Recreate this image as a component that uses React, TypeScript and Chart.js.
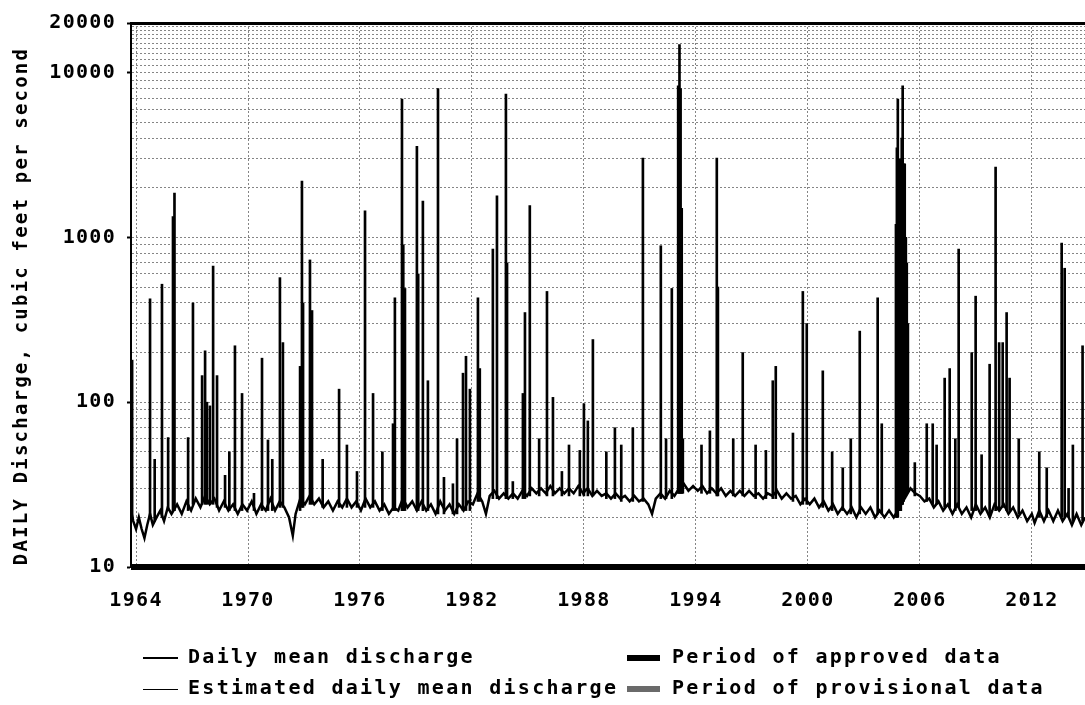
import React, { useEffect, useRef } from 'react';
import { Chart, registerables } from 'chart.js';

Chart.register(...registerables);

// ---------- axis ticks ----------
const xTickYears = [1964, 1970, 1976, 1982, 1988, 1994, 2000, 2006, 2012];
const yLabelValues = [10, 100, 1000, 10000, 20000];
const yGridValues = [
  10, 20, 30, 40, 50, 60, 70, 80, 90,
  100, 200, 300, 400, 500, 600, 700, 800, 900,
  1000, 2000, 3000, 4000, 5000, 6000, 7000, 8000, 9000,
  10000, 11000, 12000, 13000, 14000, 15000, 16000, 17000, 18000, 19000, 20000,
];
const xRange = [1963.73, 2014.85];
const yRange = [10, 20000];

const yAxisTitle = 'DAILY Discharge, cubic feet per second';
const legendLabels = [
  'Daily mean discharge',
  'Estimated daily mean discharge',
  'Period of approved data',
  'Period of provisional data',
];

// ---------- daily mean discharge: low-flow base (year, cfs) ----------
const baseFlow1964to1981: [number, number][] = [
  [1963.73, 22], [1963.85, 19], [1964.0, 17], [1964.15, 20], [1964.3, 17], [1964.45, 15],
  [1964.6, 18], [1964.75, 21], [1964.9, 18], [1965.1, 20], [1965.3, 22], [1965.5, 19],
  [1965.7, 23], [1965.9, 21], [1966.2, 24], [1966.45, 21], [1966.7, 25], [1966.95, 22],
  [1967.2, 26], [1967.45, 23], [1967.7, 27], [1967.95, 24], [1968.2, 26], [1968.45, 22],
  [1968.7, 25], [1968.95, 22], [1969.2, 24], [1969.45, 21], [1969.7, 24], [1969.95, 22],
  [1970.2, 25], [1970.45, 21], [1970.7, 24], [1970.95, 22], [1971.2, 26], [1971.45, 22],
  [1971.7, 25], [1971.95, 23], [1972.2, 20], [1972.4, 15.5], [1972.55, 21], [1972.8, 26],
  [1973.05, 24], [1973.3, 27], [1973.55, 24], [1973.8, 26], [1974.05, 23], [1974.3, 25],
  [1974.55, 22], [1974.8, 25], [1975.05, 23], [1975.3, 26], [1975.55, 23], [1975.8, 25],
  [1976.05, 22], [1976.3, 26], [1976.55, 23], [1976.8, 25], [1977.05, 22], [1977.3, 24],
  [1977.55, 21], [1977.8, 23], [1978.05, 22], [1978.3, 26], [1978.55, 23], [1978.8, 25],
  [1979.05, 22], [1979.3, 25], [1979.55, 22], [1979.8, 24], [1980.05, 21], [1980.3, 25],
  [1980.55, 22], [1980.8, 24], [1981.05, 21], [1981.3, 24], [1981.55, 22], [1981.8, 25],
];
const baseFlow1982to1999: [number, number][] = [
  [1982.05, 24], [1982.3, 28], [1982.55, 25], [1982.75, 21], [1982.95, 27], [1983.2, 29],
  [1983.45, 26], [1983.7, 28], [1983.95, 26], [1984.2, 28], [1984.45, 26], [1984.7, 29],
  [1984.95, 27], [1985.2, 30], [1985.45, 28], [1985.7, 30], [1985.95, 28], [1986.2, 31],
  [1986.45, 28], [1986.7, 30], [1986.95, 28], [1987.2, 30], [1987.45, 28], [1987.7, 31],
  [1987.95, 28], [1988.2, 30], [1988.45, 27], [1988.7, 29], [1988.95, 27], [1989.2, 28],
  [1989.45, 26], [1989.7, 28], [1989.95, 26], [1990.2, 27], [1990.45, 25], [1990.7, 27],
  [1990.95, 25], [1991.2, 26], [1991.45, 24], [1991.65, 21], [1991.85, 26], [1992.1, 28],
  [1992.35, 26], [1992.6, 29], [1992.85, 27], [1993.1, 30], [1993.35, 32], [1993.6, 29],
  [1993.85, 31], [1994.1, 29], [1994.35, 31], [1994.6, 28], [1994.85, 30], [1995.1, 28],
  [1995.35, 30], [1995.6, 27], [1995.85, 29], [1996.1, 27], [1996.35, 29], [1996.6, 27],
  [1996.85, 29], [1997.1, 27], [1997.35, 28], [1997.6, 26], [1997.85, 28], [1998.1, 27],
  [1998.35, 29], [1998.6, 26], [1998.85, 28], [1999.1, 26], [1999.35, 27], [1999.6, 24],
  [1999.85, 26],
];
const baseFlow2000to2014: [number, number][] = [
  [2000.1, 24], [2000.35, 26], [2000.6, 23], [2000.85, 25], [2001.1, 22], [2001.35, 24],
  [2001.6, 21], [2001.85, 23], [2002.1, 21], [2002.35, 23], [2002.6, 20], [2002.85, 23],
  [2003.1, 21], [2003.35, 23], [2003.6, 20], [2003.85, 22], [2004.1, 20], [2004.35, 22],
  [2004.6, 20], [2005.5, 30], [2005.75, 28], [2006.0, 27], [2006.25, 25], [2006.5, 26],
  [2006.75, 23], [2007.0, 25], [2007.25, 22], [2007.5, 24], [2007.75, 21], [2008.0, 24],
  [2008.25, 21], [2008.5, 23], [2008.75, 20], [2009.0, 24], [2009.25, 21], [2009.5, 23],
  [2009.75, 20], [2010.0, 24], [2010.25, 22], [2010.5, 24], [2010.75, 21], [2011.0, 23],
  [2011.25, 20], [2011.5, 22], [2011.75, 19], [2012.0, 21], [2012.15, 18.5], [2012.4, 22],
  [2012.65, 19], [2012.9, 22], [2013.15, 19], [2013.4, 22], [2013.65, 19], [2013.9, 21],
  [2014.15, 18], [2014.4, 21], [2014.65, 18], [2014.85, 20],
];

// ---------- daily mean discharge: storm peaks (year, base cfs, peak cfs) ----------
const peaks1964to1981: [number, number, number][] = [
  [1963.79, 20, 180], [1964.75, 20, 424], [1965.0, 19, 45], [1965.39, 20, 520],
  [1965.72, 22, 61], [1965.98, 22, 1340], [1966.06, 22, 1860], [1966.79, 22, 61],
  [1967.05, 24, 400], [1967.54, 24, 145], [1967.7, 24, 205], [1967.8, 24, 100],
  [1967.96, 24, 95], [1968.13, 24, 670], [1968.34, 23, 145], [1968.77, 23, 36],
  [1969.0, 22, 50], [1969.3, 22, 220], [1969.68, 22, 113], [1970.32, 22, 28],
  [1970.75, 22, 185], [1971.07, 22, 59], [1971.3, 22, 45], [1971.71, 23, 570],
  [1971.87, 23, 230], [1972.79, 22, 165], [1972.89, 23, 2200], [1972.95, 23, 400],
  [1973.32, 24, 730], [1973.43, 24, 360], [1974.0, 23, 45], [1974.88, 23, 120],
  [1975.3, 23, 55], [1975.84, 23, 38], [1976.27, 23, 1450], [1976.7, 23, 113],
  [1977.2, 22, 50], [1977.77, 22, 74], [1977.87, 22, 430], [1978.25, 22, 6900],
  [1978.32, 22, 900], [1978.41, 22, 490], [1979.05, 22, 3570], [1979.12, 22, 600],
  [1979.37, 22, 1660], [1979.64, 22, 135], [1980.18, 21, 8000], [1980.5, 21, 35],
  [1980.98, 21, 32], [1981.2, 21, 60], [1981.52, 22, 150], [1981.68, 22, 190],
  [1981.89, 22, 120],
];
const peaks1982to1999: [number, number, number][] = [
  [1982.32, 25, 430], [1982.42, 25, 160], [1983.12, 26, 850], [1983.34, 26, 1790],
  [1983.82, 26, 7400], [1983.88, 26, 700], [1984.19, 26, 33], [1984.73, 26, 113],
  [1984.84, 26, 350], [1985.1, 27, 1560], [1985.6, 27, 60], [1986.02, 27, 470],
  [1986.34, 27, 107], [1986.82, 27, 38], [1987.2, 27, 55], [1987.78, 27, 51],
  [1988.0, 27, 98], [1988.21, 27, 77], [1988.48, 27, 240], [1989.2, 26, 50],
  [1989.66, 26, 70], [1990.0, 25, 55], [1990.62, 25, 70], [1991.16, 25, 3030],
  [1992.12, 26, 890], [1992.4, 26, 60], [1992.71, 26, 490], [1993.05, 28, 8300],
  [1993.12, 28, 14800], [1993.18, 28, 8000], [1993.24, 28, 1500], [1993.3, 28, 60],
  [1994.3, 28, 55], [1994.75, 28, 67], [1995.12, 27, 3030], [1995.18, 27, 500],
  [1996.0, 27, 60], [1996.51, 27, 200], [1997.2, 26, 55], [1997.75, 26, 51],
  [1998.12, 26, 135], [1998.28, 26, 165], [1999.2, 25, 65], [1999.73, 24, 470],
  [1999.94, 24, 300],
];
const peaks2000to2014: [number, number, number][] = [
  [2000.8, 23, 155], [2001.3, 22, 50], [2001.87, 22, 40], [2002.3, 21, 60],
  [2002.78, 21, 270], [2003.74, 21, 430], [2003.96, 21, 74], [2004.72, 20, 1200],
  [2004.77, 20, 3500], [2004.82, 20, 6900], [2004.87, 22, 3000], [2004.93, 22, 2500],
  [2004.98, 22, 3000], [2005.03, 24, 4000], [2005.08, 24, 8300], [2005.13, 25, 2800],
  [2005.19, 26, 2800], [2005.25, 27, 1000], [2005.3, 28, 700], [2005.36, 29, 300],
  [2005.73, 27, 43], [2006.37, 25, 74], [2006.69, 24, 74], [2006.9, 24, 55],
  [2007.33, 23, 140], [2007.6, 23, 160], [2007.9, 22, 60], [2008.08, 23, 850],
  [2008.78, 22, 200], [2008.99, 22, 440], [2009.31, 22, 48], [2009.74, 21, 170],
  [2010.06, 22, 2670], [2010.25, 22, 230], [2010.44, 23, 230], [2010.65, 22, 350],
  [2010.81, 22, 140], [2011.3, 21, 60], [2012.4, 20, 50], [2012.8, 20, 40],
  [2013.6, 20, 925], [2013.76, 20, 650], [2013.97, 20, 30], [2014.2, 19, 55],
  [2014.72, 19, 220],
];

// ---------- period of approved data (bottom bar) ----------
const approvedPeriod: [number, number][] = [[1963.73, 10], [2014.85, 10]];

const FONT = '"DejaVu Sans Mono", "Liberation Mono", monospace';
const TICK_SPACING = '1.3px';

const textPlugin = {
  id: 'usgsText',
  beforeUpdate(chart: any) { chart.ctx.letterSpacing = TICK_SPACING; },
  beforeLayout(chart: any) { chart.ctx.letterSpacing = TICK_SPACING; },
  beforeDraw(chart: any) { chart.ctx.letterSpacing = TICK_SPACING; },
  afterDraw(chart: any) {
    const ctx = chart.ctx;
    // y-axis title
    ctx.save();
    ctx.fillStyle = '#000';
    ctx.font = `bold 19px ${FONT}`;
    ctx.letterSpacing = '2.2px';
    ctx.textAlign = 'center';
    ctx.textBaseline = 'middle';
    ctx.translate(22, 306);
    ctx.rotate(-Math.PI / 2);
    ctx.fillText(yAxisTitle, 0, 0);
    ctx.restore();

    // legend
    ctx.save();
    ctx.font = `bold 20px ${FONT}`;
    ctx.letterSpacing = '2.3px';
    ctx.textAlign = 'left';
    ctx.textBaseline = 'middle';
    ctx.fillStyle = '#000';
    const rows = [658, 689];
    ctx.strokeStyle = '#000';
    ctx.lineWidth = 2;
    ctx.beginPath(); ctx.moveTo(143, rows[0]); ctx.lineTo(178, rows[0]); ctx.stroke();
    ctx.lineWidth = 1;
    ctx.beginPath(); ctx.moveTo(143, rows[1] + 0.5); ctx.lineTo(178, rows[1] + 0.5); ctx.stroke();
    ctx.fillText(legendLabels[0], 188, rows[0]);
    ctx.fillText(legendLabels[1], 188, rows[1]);
    ctx.fillStyle = '#000';
    ctx.fillRect(627, rows[0] - 3, 33, 6);
    ctx.fillStyle = '#6a6a6a';
    ctx.fillRect(627, rows[1] - 3, 33, 6);
    ctx.fillStyle = '#000';
    ctx.fillText(legendLabels[2], 672, rows[0]);
    ctx.fillText(legendLabels[3], 672, rows[1]);
    ctx.restore();
  },
};

export default function App() {
  const canvasRef = useRef<HTMLCanvasElement | null>(null);

  useEffect(() => {
    const canvas = canvasRef.current;
    if (!canvas) return;

    const baseData = [...baseFlow1964to1981, ...baseFlow1982to1999, ...baseFlow2000to2014]
      .map(([x, y]) => ({ x, y }));
    const peakData = [...peaks1964to1981, ...peaks1982to1999, ...peaks2000to2014]
      .map(([x, lo, hi]) => ({ x, y: [lo, hi] }));
    const approvedData = approvedPeriod.map(([x, y]) => ({ x, y }));

    const gridColor = '#858585';

    const chart = new Chart(canvas, {
      type: 'line',
      data: {
        datasets: [
          {
            type: 'line',
            label: legendLabels[0],
            data: baseData,
            borderColor: '#000',
            borderWidth: 2.5,
            pointRadius: 0,
            tension: 0,
            order: 2,
          },
          {
            type: 'bar',
            label: legendLabels[0] + ' peaks',
            data: peakData as any,
            backgroundColor: '#000',
            borderWidth: 0,
            barThickness: 2,
            grouped: false,
            order: 1,
          },
          {
            type: 'line',
            label: legendLabels[2],
            data: approvedData,
            borderColor: '#000',
            borderWidth: 6,
            pointRadius: 0,
            clip: false as any,
            order: 0,
          },
        ] as any,
      },
      options: {
        responsive: false,
        devicePixelRatio: 1,
        animation: false,
        layout: { padding: { top: 17, left: 0, right: 0, bottom: 0 } },
        plugins: {
          legend: { display: false },
          tooltip: { enabled: false },
          title: { display: false },
        },
        scales: {
          x: {
            type: 'linear',
            position: 'bottom',
            min: xRange[0],
            max: xRange[1],
            offset: false,
            afterBuildTicks: (scale: any) => {
              scale.ticks = xTickYears.map((v) => ({ value: v }));
            },
            afterFit: (scale: any) => { scale.height = 138; },
            ticks: {
              autoSkip: false,
              maxRotation: 0,
              padding: 22,
              color: '#000',
              font: { family: FONT, size: 20, weight: 'bold' },
              callback: (v: any) => String(v),
            },
            grid: { color: gridColor, lineWidth: 1, drawTicks: false, offset: false },
            border: { display: false, dash: [2, 2] },
          },
          x2: {
            type: 'linear',
            position: 'top',
            min: xRange[0],
            max: xRange[1],
            display: true,
            afterFit: (scale: any) => { scale.height = 0; },
            ticks: { display: false },
            grid: { display: false },
            border: { display: true, color: '#000', width: 3 },
          },
          y: {
            type: 'logarithmic',
            min: yRange[0],
            max: yRange[1],
            afterBuildTicks: (scale: any) => {
              scale.ticks = yGridValues.map((v) => ({ value: v }));
            },
            afterFit: (scale: any) => { scale.width = 131; },
            ticks: {
              autoSkip: false,
              padding: 11,
              color: '#000',
              font: { family: FONT, size: 20, weight: 'bold' },
              callback: (v: any) => (yLabelValues.includes(Number(v)) ? String(v) : ''),
            },
            grid: {
              color: gridColor,
              lineWidth: 1,
              drawTicks: true,
              tickLength: 4,
              tickWidth: 2,
              tickColor: (c: any) =>
                c.tick && yLabelValues.includes(c.tick.value) ? '#000' : 'rgba(0,0,0,0)',
            },
            border: { display: true, color: '#000', width: 2, dash: [2, 2] },
          },
        },
      } as any,
      plugins: [textPlugin as any],
    });

    return () => chart.destroy();
  }, []);

  return (
    <div style={{ position: 'absolute', left: 0, top: 0, width: 1085, height: 705, background: '#fff' }}>
      <canvas ref={canvasRef} width={1085} height={705} style={{ display: 'block' }} />
    </div>
  );
}
